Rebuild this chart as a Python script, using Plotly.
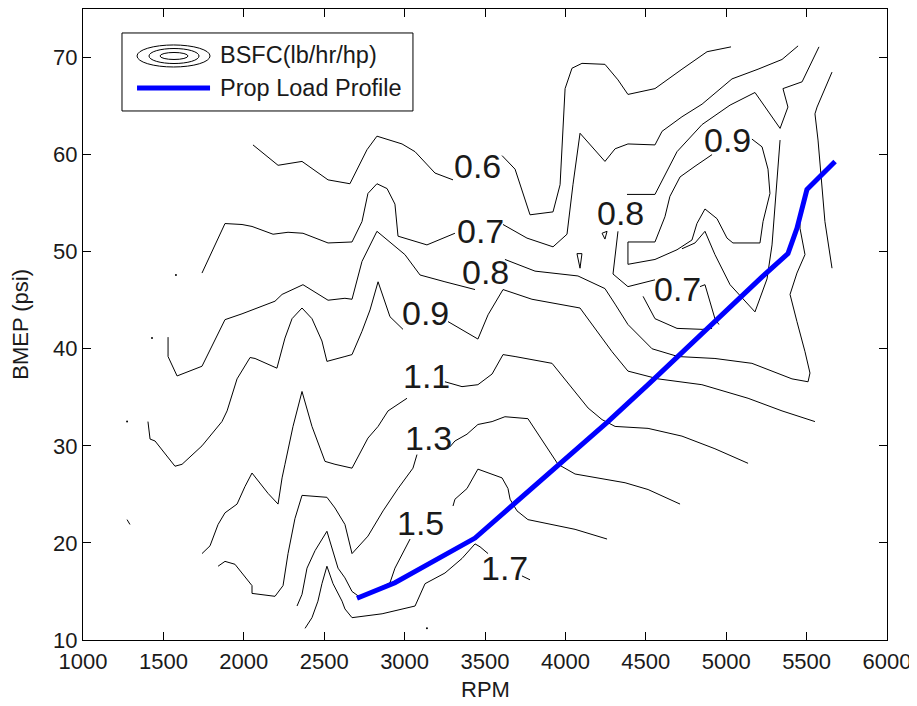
import plotly.graph_objects as go

# ---------------- data (RPM, BMEP psi) ----------------
# BSFC contour strokes (split where the inline labels interrupt the line)
c06a_rpm = [2057, 2213, 2362, 2524, 2660, 2766, 2828, 2984, 3065, 3189, 3301]
c06a_bmep = [61.0, 58.9, 59.3, 57.4, 57.0, 60.5, 61.9, 61.1, 60.3, 58.1, 57.4]
c06b_rpm = [3606, 3687, 3780, 3923, 3967, 3998, 4041, 4103, 4246, 4327, 4389, 4557, 4725, 4881, 5030]
c06b_bmep = [59.9, 58.5, 53.8, 54.1, 56.9, 66.8, 68.9, 69.4, 69.3, 67.7, 66.2, 66.8, 68.8, 70.6, 71.1]

c07a_rpm = [1740, 1883, 1989, 2051, 2182, 2275, 2368, 2524, 2673, 2735, 2772, 2828, 2891, 2940, 2959, 3139, 3313]
c07a_bmep = [47.8, 52.9, 52.8, 52.6, 51.8, 52.0, 51.9, 50.9, 51.0, 53.1, 56.0, 57.0, 56.5, 54.9, 51.6, 50.7, 51.9]
c07b_rpm = [3612, 3761, 3923, 4010, 4047, 4091, 4246, 4309, 4389, 4557, 4601, 4725, 4850, 5036, 5198, 5347, 5447]
c07b_bmep = [52.8, 51.4, 50.5, 51.8, 56.9, 62.2, 59.3, 60.6, 61.1, 61.0, 62.4, 63.9, 65.2, 67.8, 68.8, 69.8, 71.2]

c08a_rpm = [1529, 1529, 1585, 1740, 1883, 1989, 2194, 2238, 2368, 2524, 2629, 2673, 2735, 2828, 3002, 3096, 3251, 3438]
c08a_bmep = [41.2, 39.2, 37.2, 38.2, 43.0, 43.6, 44.9, 45.6, 46.6, 45.0, 45.2, 45.1, 49.0, 52.1, 49.7, 47.6, 46.9, 46.1]
c08b_rpm = [3624, 3811, 4078, 4246, 4309, 4389, 4539, 4700, 4930, 5160, 5409, 5509, 5521, 5490, 5440, 5397, 5440, 5490, 5459, 5459]
c08b_bmep = [49.2, 48.0, 47.5, 46.2, 44.6, 42.5, 40.0, 39.2, 39.0, 38.5, 36.9, 36.6, 37.5, 39.7, 42.8, 45.6, 47.8, 49.7, 52.4, 53.9]

c09a_rpm = [1404, 1417, 1448, 1572, 1616, 1740, 1864, 1896, 1958, 2039, 2070, 2206, 2256, 2300, 2362, 2424, 2486,
            2517, 2629, 2673, 2735, 2785, 2835, 2909, 2990]
c09a_bmep = [32.5, 30.7, 30.5, 27.9, 28.1, 30.0, 32.5, 33.6, 36.9, 39.1, 39.0, 38.0, 41.1, 43.1, 44.2, 43.1, 40.8,
             38.7, 39.2, 39.4, 41.8, 44.0, 46.9, 43.3, 42.0]
c09b_rpm = [3270, 3456, 3519, 3612, 3792, 4091, 4228, 4290, 4389, 4576, 4849, 5136, 5347, 5552]
c09b_bmep = [42.8, 41.0, 43.5, 46.1, 45.1, 44.2, 41.1, 39.7, 37.7, 36.9, 36.3, 34.9, 33.6, 32.5]

c11a_rpm = [1740, 1790, 1840, 1883, 1958, 2007, 2051, 2151, 2213, 2238, 2256, 2306, 2362, 2424, 2505, 2567, 2673,
            2723, 2772, 2835, 2897, 3015]
c11a_bmep = [18.9, 19.7, 21.9, 23.1, 24.0, 25.8, 27.2, 25.1, 24.0, 26.7, 28.1, 32.0, 35.6, 32.0, 28.4, 28.1, 27.7,
             29.2, 30.8, 32.0, 33.6, 34.9]
c11b_rpm = [3251, 3357, 3456, 3544, 3612, 3687, 3917, 4060, 4141, 4228, 4309, 4514, 4725, 4930, 5136]
c11b_bmep = [36.6, 36.1, 36.3, 37.4, 39.4, 39.2, 38.5, 35.6, 33.9, 32.7, 32.0, 31.8, 31.0, 29.7, 28.2]

c13a_rpm = [1840, 1883, 1945, 2051, 2051, 2194, 2244, 2275, 2318, 2362, 2517, 2567, 2629, 2673, 2772, 2866, 2959, 3052, 3077]
c13a_bmep = [17.6, 18.1, 17.8, 15.6, 14.8, 14.5, 15.6, 18.9, 22.5, 24.9, 24.7, 23.6, 21.9, 18.9, 20.7, 23.3, 25.6, 27.7, 29.1]
c13b_rpm = [3282, 3313, 3388, 3456, 3544, 3624, 3767, 3799, 3855, 3954, 4060, 4371, 4514, 4713]
c13b_bmep = [29.9, 30.5, 31.2, 32.2, 32.5, 33.0, 32.8, 32.0, 30.5, 28.1, 27.1, 26.2, 25.5, 24.0]

c15a_rpm = [2331, 2362, 2393, 2443, 2517, 2549, 2586, 2629, 2673, 2723, 2909, 2940, 3015, 3034]
c15a_bmep = [13.5, 14.7, 17.4, 19.2, 21.2, 19.5, 17.4, 16.4, 15.0, 14.4, 15.9, 17.4, 19.7, 20.4]
c15b_rpm = [3301, 3313, 3388, 3456, 3606, 3643, 3656, 3699, 3767, 3892, 4060, 4259]
c15b_bmep = [23.8, 24.5, 25.6, 27.6, 26.7, 25.6, 24.5, 23.3, 22.4, 22.0, 21.4, 20.4]

c17a_rpm = [2381, 2424, 2461, 2486, 2517, 2555, 2611, 2629, 2673, 2860, 3065, 3127, 3251, 3357, 3438, 3469, 3519]
c17a_bmep = [11.2, 12.3, 14.0, 15.8, 17.6, 15.8, 14.0, 13.2, 12.3, 12.7, 13.5, 15.8, 16.9, 18.4, 19.9, 19.6, 18.9]
c17b_rpm = [3730, 3780]
c17b_bmep = [16.6, 16.2]

# high-speed region (around the 0.8 / 0.9 islands)
r09_rpm = [5160, 5223, 5260, 5272, 5229, 5210, 5042, 5005, 4943, 4868, 4818, 4787, 4694, 4557, 4389, 4389, 4389,
           4557, 4619, 4650, 4713, 4806, 4912]
r09_bmep = [61.6, 60.8, 58.5, 56.0, 53.1, 50.9, 50.9, 51.4, 53.4, 54.4, 52.9, 51.2, 50.2, 49.2, 48.7, 50.3, 51.0,
            51.0, 53.6, 55.7, 57.7, 58.8, 60.0]
r08i_rpm = [5335, 5303, 5285, 5254, 5179, 5024, 4930, 4868, 4806, 4725]
r08i_bmep = [61.5, 54.1, 50.7, 47.2, 43.8, 46.6, 49.7, 52.1, 50.9, 50.3]
r08u_rpm = [4383, 4557, 4694, 4850, 5024, 5179, 5335, 5384, 5353, 5472, 5577]
r08u_bmep = [55.9, 55.9, 60.3, 63.1, 65.1, 66.4, 62.7, 64.9, 66.8, 67.5, 71.1]
r07a_rpm = [4327, 4296, 4389, 4557]
r07a_bmep = [52.1, 47.7, 46.4, 47.1]
r07b_rpm = [4837, 4868, 4930, 4955]
r07b_bmep = [46.4, 46.6, 43.1, 42.5]
r07c_rpm = [4483, 4557, 4694, 4850, 4912]
r07c_bmep = [45.4, 43.1, 42.1, 42.0, 42.1]
redge_rpm = [5658, 5565, 5552, 5571, 5614, 5658]
redge_bmep = [68.5, 64.9, 64.2, 61.5, 53.1, 48.3]

# tiny contour fragments
t1_rpm = [1274, 1292]
t1_bmep = [22.4, 21.9]
t2_rpm = [4228, 4246, 4259, 4228]
t2_bmep = [51.9, 51.3, 52.1, 51.9]
t3_rpm = [4072, 4091, 4103, 4072]
t3_bmep = [49.8, 48.3, 49.8, 49.8]
dot_rpm = [1578, 1429, 1274, 3139]
dot_bmep = [47.6, 41.1, 32.5, 11.2]

# contour labels
label_text = ["0.6", "0.7", "0.8", "0.9", "1.1", "1.3", "1.5", "1.7", "0.8", "0.7", "0.9"]
label_rpm = [3456, 3469, 3500, 3127, 3139, 3146, 3096, 3624, 4340, 4694, 5011]
label_bmep = [58.8, 52.1, 47.9, 43.7, 37.2, 30.8, 22.1, 17.4, 54.0, 46.2, 61.5]

# propeller load profile
prop_rpm = [2704, 2940, 3438, 3687, 3954, 4265, 4514, 4700, 5055, 5223, 5384, 5440, 5502, 5677]
prop_bmep = [14.3, 15.9, 20.5, 24.1, 27.9, 32.5, 36.3, 39.2, 44.9, 47.4, 49.8, 52.4, 56.4, 59.3]

x_ticks = [1000, 1500, 2000, 2500, 3000, 3500, 4000, 4500, 5000, 5500, 6000]
y_ticks = [10, 20, 30, 40, 50, 60, 70]

# ---------------- figure ----------------
FONT = "Liberation Sans, Arial, Helvetica, sans-serif"
TXT = "#1a1a1a"
fig = go.Figure()

strokes = [
    (c06a_rpm, c06a_bmep), (c06b_rpm, c06b_bmep),
    (c07a_rpm, c07a_bmep), (c07b_rpm, c07b_bmep),
    (c08a_rpm, c08a_bmep), (c08b_rpm, c08b_bmep),
    (c09a_rpm, c09a_bmep), (c09b_rpm, c09b_bmep),
    (c11a_rpm, c11a_bmep), (c11b_rpm, c11b_bmep),
    (c13a_rpm, c13a_bmep), (c13b_rpm, c13b_bmep),
    (c15a_rpm, c15a_bmep), (c15b_rpm, c15b_bmep),
    (c17a_rpm, c17a_bmep), (c17b_rpm, c17b_bmep),
    (r09_rpm, r09_bmep), (r08i_rpm, r08i_bmep), (r08u_rpm, r08u_bmep),
    (r07a_rpm, r07a_bmep), (r07b_rpm, r07b_bmep), (r07c_rpm, r07c_bmep),
    (redge_rpm, redge_bmep),
    (t1_rpm, t1_bmep), (t2_rpm, t2_bmep), (t3_rpm, t3_bmep),
]
for xs, ys in strokes:
    fig.add_trace(go.Scatter(x=xs, y=ys, mode="lines",
                             line=dict(color="black", width=1),
                             showlegend=False, hoverinfo="skip"))

fig.add_trace(go.Scatter(x=dot_rpm, y=dot_bmep, mode="markers",
                         marker=dict(color="black", size=2),
                         showlegend=False, hoverinfo="skip"))

fig.add_trace(go.Scatter(x=prop_rpm, y=prop_bmep, mode="lines",
                         line=dict(color="rgb(0,0,255)", width=5),
                         name="Prop Load Profile", showlegend=False))

for t, xv, yv in zip(label_text, label_rpm, label_bmep):
    fig.add_annotation(x=xv, y=yv, text=t, showarrow=False,
                       font=dict(family=FONT, size=34, color=TXT),
                       xanchor="center", yanchor="middle")

# legend drawn as a boxed key (MATLAB style)
shapes = [
    dict(type="rect", xref="paper", yref="paper", x0=0.0485, x1=0.4104, y0=0.8384, y1=0.9620,
         line=dict(color="black", width=1), fillcolor="white", layer="above"),
    dict(type="circle", xref="paper", yref="paper", x0=0.0672, x1=0.1580, y0=0.9081, y1=0.9430,
         line=dict(color="black", width=1)),
    dict(type="circle", xref="paper", yref="paper", x0=0.0821, x1=0.1443, y0=0.9136, y1=0.9374,
         line=dict(color="black", width=1)),
    dict(type="circle", xref="paper", yref="paper", x0=0.0958, x1=0.1306, y0=0.9200, y1=0.9311,
         line=dict(color="black", width=1)),
    dict(type="line", xref="paper", yref="paper", x0=0.0672, x1=0.1580, y0=0.8748, y1=0.8748,
         line=dict(color="rgb(0,0,255)", width=5)),
]
fig.update_layout(shapes=shapes)
fig.add_annotation(xref="paper", yref="paper", x=0.1679, y=0.9271, text="BSFC(lb/hr/hp)",
                   showarrow=False, xanchor="left", yanchor="middle",
                   font=dict(family=FONT, size=23.5, color=TXT))
fig.add_annotation(xref="paper", yref="paper", x=0.1679, y=0.8748, text="Prop Load Profile",
                   showarrow=False, xanchor="left", yanchor="middle",
                   font=dict(family=FONT, size=23.5, color=TXT))

# axis titles
fig.add_annotation(xref="paper", yref="paper", x=0.5, y=-0.078, text="RPM", showarrow=False,
                   xanchor="center", yanchor="middle", font=dict(family=FONT, size=22, color=TXT))
fig.add_annotation(xref="paper", yref="paper", x=-0.078, y=0.5, text="BMEP (psi)", showarrow=False,
                   textangle=-90, xanchor="center", yanchor="middle",
                   font=dict(family=FONT, size=22, color=TXT))

axis_common = dict(showgrid=False, zeroline=False, showline=True, linecolor="black", linewidth=1,
                   mirror="ticks", ticks="inside", ticklen=8, tickcolor="black", tickwidth=1,
                   automargin=False,
                   tickfont=dict(family=FONT, size=22, color=TXT))
fig.update_xaxes(range=[1000, 6000], tickvals=x_ticks, ticktext=[str(v) for v in x_ticks],
                 ticklabelstandoff=2, **axis_common)
fig.update_yaxes(range=[10, 75], tickvals=y_ticks, ticktext=[str(v) for v in y_ticks], **axis_common)

# the page adds an 8px body margin, so the figure is sized to fit the 917x706 window
fig.update_layout(width=909, height=698, margin=dict(l=75, r=30, t=1, b=66),
                  paper_bgcolor="white", plot_bgcolor="white", showlegend=False,
                  font=dict(family=FONT, color=TXT))

fig.write_html("out.html")
